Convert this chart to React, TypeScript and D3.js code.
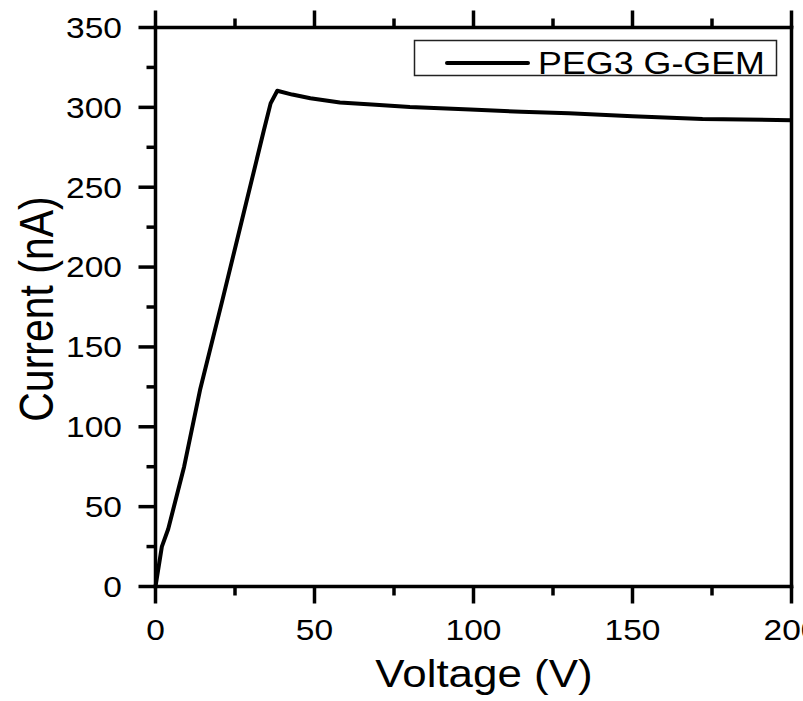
import React from "react";
import * as d3 from "d3";

const voltage = [0, 2, 4, 9, 14, 21, 28, 34, 36.2, 38.3, 43, 48.7, 58, 68, 80, 99, 115, 130, 150, 172, 200];
const current = [0, 25, 36, 75, 123, 179, 236, 285, 302.5, 310.4, 308, 305.7, 303, 301.8, 300.2, 298.6, 297.3, 296.3, 294.5, 292.7, 292];
const xTicks = [0, 50, 100, 150, 200];
const yTicks = [0, 50, 100, 150, 200, 250, 300, 350];
const seriesName = "PEG3 G-GEM";
const xTitle = "Voltage (V)";
const yTitle = "Current (nA)";

const L = 155.5, R = 791.5, T = 27.5, B = 586.5;
const SX = 1.156;
const FONT = "'Liberation Sans', Arial, Helvetica, sans-serif";

export default function App() {
  const x = d3.scaleLinear().domain([0, 200]).range([L, R]);
  const y = d3.scaleLinear().domain([0, 350]).range([B, T]);
  const pts: [number, number][] = voltage.map((v, i) => [v, current[i]]);
  const line = d3.line<[number, number]>().x(d => x(d[0])).y(d => y(d[1]));
  const xMinor = d3.range(0, 201, 25).filter(v => v % 50 !== 0);
  const yMinor = d3.range(0, 351, 25).filter(v => v % 50 !== 0);
  const AX = 3.5;
  const MAJ = 17, MIN = 9;

  return (
    <svg width={803} height={701} style={{ position: "absolute", left: 0, top: 0, background: "#fff" }}>
      <rect x={0} y={0} width={803} height={701} fill="#fff" />
      {/* data */}
      <path d={line(pts) || ""} fill="none" stroke="#000" strokeWidth={4} strokeLinejoin="round" />
      {/* axes frame */}
      <g stroke="#000" strokeWidth={AX} strokeLinecap="square">
        <line x1={L} y1={B} x2={R} y2={B} />
        <line x1={L} y1={T} x2={R} y2={T} />
        <line x1={L} y1={T} x2={L} y2={B} />
        <line x1={R} y1={T} x2={R} y2={B} />
      </g>
      {/* x ticks bottom and top */}
      <g stroke="#000" strokeWidth={AX}>
        {xTicks.map(v => (
          <g key={"xt" + v}>
            <line x1={x(v)} x2={x(v)} y1={B} y2={B + MAJ} />
            <line x1={x(v)} x2={x(v)} y1={T} y2={T - MAJ} />
          </g>
        ))}
        {xMinor.map(v => (
          <g key={"xm" + v}>
            <line x1={x(v)} x2={x(v)} y1={B} y2={B + MIN} />
            <line x1={x(v)} x2={x(v)} y1={T} y2={T - MIN} />
          </g>
        ))}
        {yTicks.map(v => (
          <line key={"yt" + v} x1={L - MAJ} x2={L} y1={y(v)} y2={y(v)} />
        ))}
        {yMinor.map(v => (
          <line key={"ym" + v} x1={L - MIN} x2={L} y1={y(v)} y2={y(v)} />
        ))}
      </g>
      {/* tick labels */}
      <g fontFamily={FONT} fontSize={29} fill="#000">
        {xTicks.map(v => (
          <text key={"xl" + v} transform={`translate(${x(v)},${640}) scale(${SX},1)`} textAnchor="middle">
            {String(v)}
          </text>
        ))}
        {yTicks.map(v => (
          <text key={"yl" + v} transform={`translate(${122},${y(v) + 10.4}) scale(${SX},1)`} textAnchor="end">
            {String(v)}
          </text>
        ))}
      </g>
      {/* axis titles */}
      <text
        transform={`translate(${484},${687}) scale(${SX},1)`}
        textAnchor="middle"
        fontFamily={FONT}
        fontSize={38}
        fill="#000"
      >
        {xTitle}
      </text>
      <text
        transform={`translate(${53},${309}) scale(${SX},1) rotate(-90)`}
        textAnchor="middle"
        fontFamily={FONT}
        fontSize={41}
        fill="#000"
      >
        {yTitle}
      </text>
      {/* legend */}
      <rect x={414.5} y={40.5} width={362} height={35} fill="#fff" stroke="#222" strokeWidth={1.5} />
      <line x1={447} x2={528} y1={63} y2={63} stroke="#000" strokeWidth={4} strokeLinecap="round" />
      <text transform={`translate(${538},${74}) scale(${SX},1)`} fontFamily={FONT} fontSize={31} fill="#000">
        {seriesName}
      </text>
    </svg>
  );
}
